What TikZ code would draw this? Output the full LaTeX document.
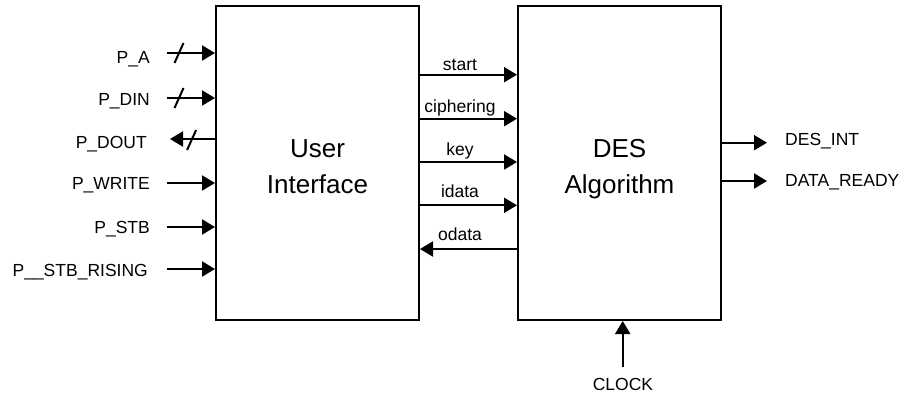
\documentclass[tikz,border=0pt]{standalone}
\usepackage{fontspec}
\setmainfont{Liberation Sans}
\usetikzlibrary{arrows.meta}
\begin{document}
\begin{tikzpicture}[x=1pt,y=-1pt,
  block/.style={draw,line width=2pt,minimum width=203pt,minimum height=314pt,inner sep=0pt},
  sig/.style={line width=2pt,-{Triangle[length=13pt,width=15pt]}},
  slash/.style={line width=2pt},
  lbl/.style={inner sep=0pt,font=\fontsize{17.5}{20}\selectfont},
  title/.style={inner sep=0pt,font=\fontsize{26}{30}\selectfont}]
\useasboundingbox (0,0) rectangle (909,395);

% the two blocks
\node[block] (ui)  at (317.5,163) {};
\node[block] (des) at (619.5,163) {};
\node[title,anchor=base] (uit1) at (317.5,157.3) {User};
\node[title,anchor=base] (uit2) at (317.5,194) {Interface};
\node[title,anchor=base] (dest1) at (619.5,157.3) {DES};
\node[title,anchor=base] (dest2) at (619.5,194) {Algorithm};

% bus and control inputs of the user interface
\node[lbl,anchor=base east] (lpa)   at (150,63.3)  {P\_A};
\node[lbl,anchor=base east] (lpdin) at (150,106)   {P\_DIN};
\node[lbl,anchor=base east] (lpdout) at (147,148.3) {P\_DOUT};
\node[lbl,anchor=base east] (lpw)   at (150,190)   {P\_WRITE};
\node[lbl,anchor=base east] (lps)   at (150,233.3) {P\_STB};
\node[lbl,anchor=base east] (lpr)   at (148,276.7) {P\_\_STB\_RISING};

\coordinate (pa)   at (167,53);
\coordinate (pdin) at (167,98);
\coordinate (pdout) at (170,139);
\coordinate (pw)   at (167,183);
\coordinate (ps)   at (167,227);
\coordinate (pr)   at (167,269);

\draw[sig] (pa) -- coordinate[pos=0.25] (sa) (pa -| ui.west);
\draw[sig] (pdin) -- coordinate[pos=0.25] (sd) (pdin -| ui.west);
\draw[sig] (pdout -| ui.west) -- coordinate[pos=0.52] (so) (pdout);
\draw[sig] (pw) -- (pw -| ui.west);
\draw[sig] (ps) -- (ps -| ui.west);
\draw[sig] (pr) -- (pr -| ui.west);

% bus width marks
\draw[slash] ([shift={(-4.5,10)}]sa) -- ([shift={(4.5,-10)}]sa);
\draw[slash] ([shift={(-4.5,10)}]sd) -- ([shift={(4.5,-10)}]sd);
\draw[slash] ([shift={(-4.5,11)}]so) -- ([shift={(4.5,-9)}]so);

% signals between the blocks
\coordinate (cs) at (419,74.7);
\coordinate (cc) at (419,118.7);
\coordinate (ck) at (419,162);
\coordinate (ci) at (419,205.3);
\coordinate (co) at (419,249);
\draw[sig] (cs -| ui.east) -- (cs -| des.west);
\draw[sig] (cc -| ui.east) -- (cc -| des.west);
\draw[sig] (ck -| ui.east) -- (ck -| des.west);
\draw[sig] (ci -| ui.east) -- (ci -| des.west);
\draw[sig] (co -| des.west) -- (co -| ui.east);
\node[lbl,anchor=base] (tstart) at (460,70.7)  {start};
\node[lbl,anchor=base] (tciph)  at (460,112.7) {ciphering};
\node[lbl,anchor=base] (tkey)   at (460,155.5) {key};
\node[lbl,anchor=base] (tidata) at (460,197.5) {idata};
\node[lbl,anchor=base] (todata) at (460,240.5) {odata};

% outputs of the DES block
\coordinate (oi) at (767,142.7);
\coordinate (or) at (767,181);
\draw[sig] (oi -| des.east) -- (oi);
\draw[sig] (or -| des.east) -- (or);
\node[lbl,anchor=base west] (tdi) at (785,146)   {DES\_INT};
\node[lbl,anchor=base west] (tdr) at (785,186.7) {DATA\_READY};

% clock input
\coordinate (clk) at (622.7,367);
\draw[sig] (clk) -- (clk |- des.south);
\node[lbl,anchor=base] (tclk) at (623,390) {CLOCK};
\end{tikzpicture}
\end{document}
